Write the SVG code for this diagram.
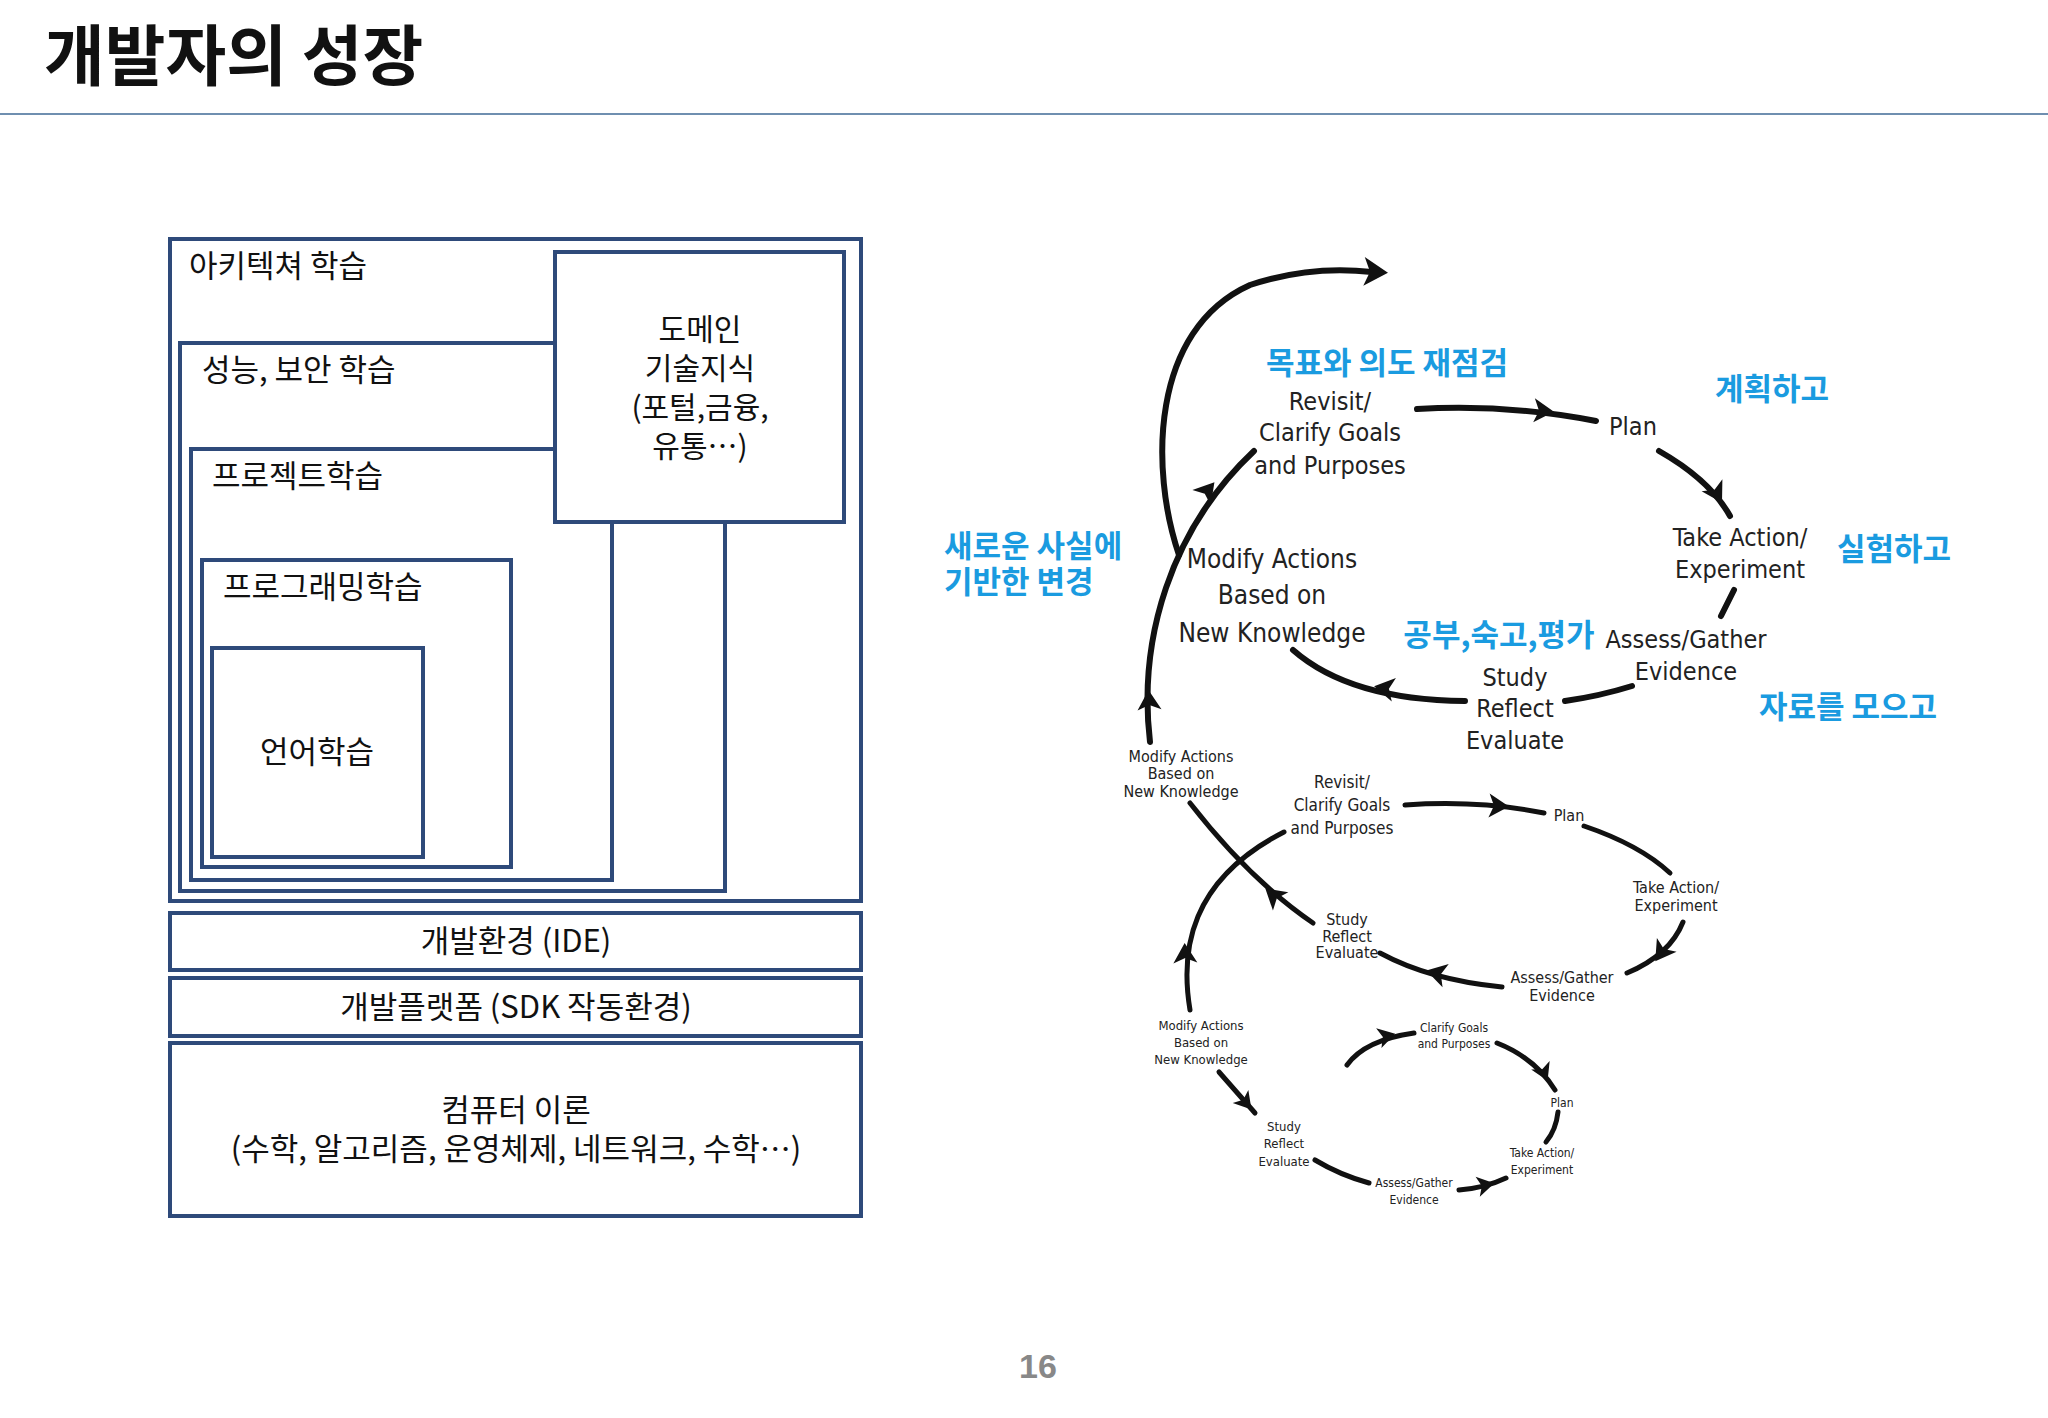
<svg xmlns="http://www.w3.org/2000/svg" xmlns:xlink="http://www.w3.org/1999/xlink" width="2048" height="1418" viewBox="0 0 2048 1418">
<style>
.k{font-family:"Noto Sans CJK KR","Noto Sans",sans-serif;fill:#111}
.bx{fill:none;stroke:#2e4a7a;stroke-width:4}
.bl{font-family:"Noto Sans CJK KR",sans-serif;fill:#1a9be0;font-weight:bold;font-size:31px}
.h{font-family:"DejaVu Sans Condensed","DejaVu Sans",sans-serif;fill:#222;text-anchor:middle}
.ln{fill:none;stroke:#111;stroke-width:6;stroke-linecap:round}
.ln2{fill:none;stroke:#111;stroke-width:5;stroke-linecap:round}
</style>
<defs><path id="ah" d="M10 0 L-10 -12 L-5 0 L-10 12 Z" fill="#111"/></defs>
<rect width="2048" height="1418" fill="#fff"/>
<text x="44" y="80" class="k" font-size="66" font-weight="bold">개발자의 성장</text>
<line x1="0" y1="114" x2="2048" y2="114" stroke="#6f8fb0" stroke-width="2"/>

<g id="arch"><rect class="bx" x="170" y="239" width="691" height="662"/><text class="k" x="189" y="277" font-size="31">아키텍쳐 학습</text></g>
<g id="perf"><rect class="bx" x="180" y="343" width="545" height="548"/><text class="k" x="202" y="381" font-size="31">성능, 보안 학습</text></g>
<g id="proj"><rect class="bx" x="191" y="449" width="421" height="431"/><text class="k" x="212" y="487" font-size="31">프로젝트학습</text></g>
<g id="prog"><rect class="bx" x="202" y="560" width="309" height="307"/><text class="k" x="223" y="598" font-size="31">프로그래밍학습</text></g>
<g id="lang"><rect class="bx" x="212" y="648" width="211" height="209"/><text class="k" x="317" y="763" font-size="31" text-anchor="middle">언어학습</text></g>
<g id="domain"><rect class="bx" x="555" y="252" width="289" height="270" style="fill:#fff"/><text class="k" font-size="30" text-anchor="middle"><tspan x="700" y="340">도메인</tspan><tspan x="700" y="379">기술지식</tspan><tspan x="700" y="418">(포털,금융,</tspan><tspan x="700" y="457">유통…)</tspan></text></g>
<g id="ide"><rect class="bx" x="170" y="913" width="691" height="57"/><text class="k" x="516" y="952" font-size="31" text-anchor="middle">개발환경 (IDE)</text></g>
<g id="sdk"><rect class="bx" x="170" y="978" width="691" height="58"/><text class="k" x="516" y="1018" font-size="31" text-anchor="middle">개발플랫폼 (SDK 작동환경)</text></g>
<g id="theory"><rect class="bx" x="170" y="1043" width="691" height="173"/><text class="k" font-size="31" text-anchor="middle"><tspan x="516" y="1121">컴퓨터 이론</tspan><tspan x="516" y="1160">(수학, 알고리즘, 운영체제, 네트워크, 수학…)</tspan></text></g>

<g id="labels-blue">
<text class="bl" x="1387" y="374" text-anchor="middle">목표와 의도 재점검</text>
<text class="bl" x="1772" y="400" text-anchor="middle">계획하고</text>
<text class="bl" x="1894" y="560" text-anchor="middle">실험하고</text>
<text class="bl" x="1848" y="718" text-anchor="middle">자료를 모으고</text>
<text class="bl" x="1499" y="646" text-anchor="middle">공부,숙고,평가</text>
<text class="bl" x="944" y="557">새로운 사실에</text>
<text class="bl" x="944" y="593">기반한 변경</text>
</g>

<g id="cycle1" class="h" font-size="25">
<text><tspan x="1330" y="410">Revisit/</tspan><tspan x="1330" y="441">Clarify Goals</tspan><tspan x="1330" y="474">and Purposes</tspan></text>
<text x="1633" y="435">Plan</text>
<text><tspan x="1740" y="546">Take Action/</tspan><tspan x="1740" y="578">Experiment</tspan></text>
<text><tspan x="1686" y="648">Assess/Gather</tspan><tspan x="1686" y="680">Evidence</tspan></text>
<text><tspan x="1515" y="686">Study</tspan><tspan x="1515" y="717">Reflect</tspan><tspan x="1515" y="749">Evaluate</tspan></text>
<text font-size="26"><tspan x="1272" y="568">Modify Actions</tspan><tspan x="1272" y="604">Based on</tspan><tspan x="1272" y="642">New Knowledge</tspan></text>
</g>
<g id="cycle2" class="h" font-size="16">
<text><tspan x="1181" y="762">Modify Actions</tspan><tspan x="1181" y="779">Based on</tspan><tspan x="1181" y="797">New Knowledge</tspan></text>
<text font-size="17"><tspan x="1342" y="788">Revisit/</tspan><tspan x="1342" y="811">Clarify Goals</tspan><tspan x="1342" y="834">and Purposes</tspan></text>
<text x="1569" y="821">Plan</text>
<text><tspan x="1676" y="893">Take Action/</tspan><tspan x="1676" y="911">Experiment</tspan></text>
<text><tspan x="1562" y="983">Assess/Gather</tspan><tspan x="1562" y="1001">Evidence</tspan></text>
<text><tspan x="1347" y="925">Study</tspan><tspan x="1347" y="942">Reflect</tspan><tspan x="1347" y="958">Evaluate</tspan></text>
</g>
<g id="cycle3" class="h" font-size="13">
<text><tspan x="1201" y="1030">Modify Actions</tspan><tspan x="1201" y="1047">Based on</tspan><tspan x="1201" y="1064">New Knowledge</tspan></text>
<text><tspan x="1284" y="1131">Study</tspan><tspan x="1284" y="1148">Reflect</tspan><tspan x="1284" y="1166">Evaluate</tspan></text>
<text font-size="12"><tspan x="1414" y="1187">Assess/Gather</tspan><tspan x="1414" y="1204">Evidence</tspan></text>
<text font-size="12"><tspan x="1542" y="1157">Take Action/</tspan><tspan x="1542" y="1174">Experiment</tspan></text>
<text font-size="12" x="1562" y="1107">Plan</text>
<text font-size="12"><tspan x="1454" y="1032">Clarify Goals</tspan><tspan x="1454" y="1048">and Purposes</tspan></text>
</g>

<g id="connectors">
<path class="ln" d="M1179 555 C1150 470,1150 330,1250 285 Q1310 265 1372 272"/>
<use href="#ah" transform="translate(1376,272) rotate(3) scale(1.2)"/>
<path class="ln" d="M1417 409 Q1510 404 1596 421"/>
<use href="#ah" transform="translate(1544,411) rotate(4)"/>
<path class="ln" d="M1659 451 Q1710 480 1730 516"/>
<use href="#ah" transform="translate(1717,494) rotate(60)"/>
<path class="ln" d="M1734 590 L1721 616"/>
<path class="ln" d="M1632 686 Q1600 696 1565 701"/>
<path class="ln" d="M1465 701 Q1350 700 1293 650"/>
<use href="#ah" transform="translate(1384,688) rotate(190)"/>
<path class="ln" d="M1150 742 C1138 640,1170 530,1254 451"/>
<use href="#ah" transform="translate(1149,700) rotate(-93)"/>
<use href="#ah" transform="translate(1208,490) rotate(-50)"/>

<path class="ln2" d="M1190 803 Q1250 880 1313 923"/>
<use href="#ah" transform="translate(1273,895) rotate(-140)"/>
<path class="ln2" d="M1405 805 Q1480 800 1544 813"/>
<use href="#ah" transform="translate(1499,806) rotate(3)"/>
<path class="ln2" d="M1584 826 Q1640 845 1670 873"/>
<path class="ln2" d="M1683 922 Q1670 955 1627 973"/>
<use href="#ah" transform="translate(1661,953) rotate(125)"/>
<path class="ln2" d="M1502 987 Q1430 980 1380 953"/>
<use href="#ah" transform="translate(1436,973) rotate(195)"/>
<path class="ln2" d="M1190 1010 C1180 950,1190 880,1284 832"/>
<use href="#ah" transform="translate(1185,953) rotate(-92)"/>

<path class="ln2" d="M1219 1072 L1255 1113"/>
<use href="#ah" transform="translate(1246,1103) rotate(50) scale(0.85)"/>
<path class="ln2" d="M1315 1160 Q1340 1175 1369 1183"/>
<path class="ln2" d="M1459 1190 Q1485 1188 1506 1178"/>
<use href="#ah" transform="translate(1486,1185) rotate(-12) scale(0.85)"/>
<path class="ln2" d="M1558 1112 Q1556 1130 1546 1142"/>
<path class="ln2" d="M1497 1043 Q1535 1058 1555 1090"/>
<use href="#ah" transform="translate(1544,1073) rotate(65) scale(0.85)"/>
<path class="ln2" d="M1347 1065 Q1365 1040 1414 1033"/>
<use href="#ah" transform="translate(1387,1036) rotate(-15) scale(0.85)"/>
</g>

<text x="1038" y="1378" font-family="Liberation Sans,sans-serif" font-weight="bold" font-size="34" fill="#888" text-anchor="middle">16</text>
</svg>
